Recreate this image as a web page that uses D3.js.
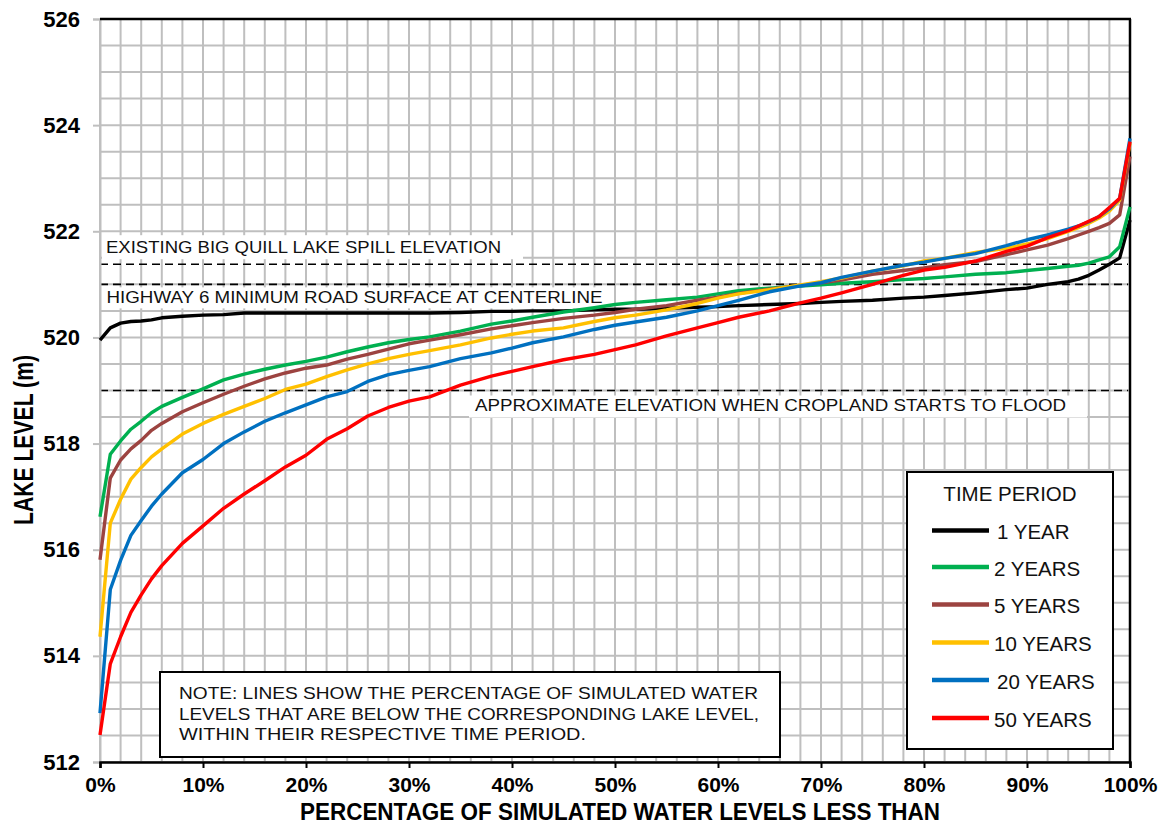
<!DOCTYPE html>
<html>
<head>
<meta charset="utf-8">
<script src="https://cdn.jsdelivr.net/npm/d3@7"></script>
<style>
  body { margin: 0; background: #fff; }
  text { font-family: "Liberation Sans", Arial, sans-serif; }
</style>
</head>
<body>
<script>
// percentage of simulated water levels (x)
var pct = [0,1,2,3,4,5,6,8,10,12,14,16,18,20,22,24,26,28,30,32,35,38,40,42,45,48,50,
           52,55,58,60,62,65,68,70,72,75,78,80,82,85,88,90,92,94,95,96,97,98,99,100];

// lake level (m) for each time period
var yr1 = [519.95,520.18,520.27,520.30,520.31,520.33,520.37,520.40,520.42,520.43,520.46,520.46,520.46,520.46,
           520.46,520.46,520.46,520.46,520.46,520.46,520.47,520.49,520.49,520.50,520.50,520.52,520.53,
           520.53,520.55,520.57,520.58,520.60,520.62,520.64,520.66,520.68,520.70,520.74,520.76,520.79,
           520.84,520.90,520.93,521.00,521.05,521.10,521.17,521.27,521.38,521.50,522.21];
var yr2 = [516.62,517.80,518.05,518.27,518.42,518.58,518.70,518.87,519.03,519.20,519.31,519.40,519.48,519.55,
           519.63,519.73,519.82,519.90,519.96,520.01,520.12,520.25,520.31,520.38,520.48,520.56,520.62,
           520.66,520.71,520.76,520.82,520.88,520.93,520.97,520.99,521.02,521.05,521.09,521.11,521.14,
           521.19,521.22,521.26,521.30,521.34,521.36,521.40,521.46,521.52,521.71,522.46];
var yr5 = [515.81,517.35,517.69,517.90,518.06,518.25,518.38,518.60,518.77,518.93,519.08,519.22,519.33,519.42,
           519.48,519.59,519.68,519.78,519.88,519.95,520.05,520.16,520.22,520.28,520.36,520.42,520.47,
           520.53,520.60,520.70,520.76,520.83,520.91,520.98,521.03,521.08,521.19,521.26,521.31,521.37,
           521.43,521.56,521.65,521.74,521.86,521.93,522.00,522.07,522.15,522.31,523.41];
var yr10 = [514.36,516.50,516.95,517.33,517.55,517.75,517.90,518.18,518.38,518.55,518.70,518.85,519.02,519.12,
            519.26,519.39,519.50,519.60,519.68,519.75,519.86,519.99,520.06,520.12,520.18,520.30,520.37,
            520.42,520.52,520.64,520.74,520.82,520.90,520.99,521.05,521.12,521.25,521.35,521.44,521.49,
            521.60,521.68,521.76,521.86,522.00,522.07,522.15,522.25,522.38,522.59,523.66];
var yr20 = [512.92,515.25,515.80,516.27,516.55,516.82,517.05,517.45,517.70,518.00,518.22,518.42,518.58,518.73,
            518.88,518.98,519.17,519.30,519.38,519.45,519.60,519.71,519.80,519.90,520.01,520.15,520.23,
            520.29,520.38,520.50,520.60,520.70,520.86,520.97,521.03,521.13,521.25,521.36,521.42,521.49,
            521.58,521.73,521.84,521.93,522.04,522.10,522.18,522.28,522.42,522.62,523.75];
var yr50 = [512.51,513.85,514.36,514.82,515.15,515.45,515.70,516.12,516.45,516.78,517.05,517.30,517.56,517.78,
            518.08,518.28,518.52,518.68,518.80,518.88,519.10,519.27,519.36,519.45,519.58,519.68,519.77,
            519.86,520.03,520.18,520.28,520.38,520.50,520.65,520.74,520.84,521.00,521.17,521.27,521.32,
            521.44,521.62,521.72,521.88,522.01,522.10,522.19,522.28,522.45,522.62,523.69];

var seriesNames = ['1 YEAR', '2 YEARS', '5 YEARS', '10 YEARS', '20 YEARS', '50 YEARS'];
var seriesValues = [yr1, yr2, yr5, yr10, yr20, yr50];
var seriesColors = ['#000000', '#00b050', '#9c4340', '#ffc000', '#0070c0', '#ff0000'];

var xTicks = [0,10,20,30,40,50,60,70,80,90,100];
var yTicks = [512,514,516,518,520,522,524,526];

// reference elevations (dashed lines)
var refLevels = [521.38, 521.0, 519.0];
var refLabels = ['EXISTING BIG QUILL LAKE  SPILL ELEVATION',
                 'HIGHWAY 6 MINIMUM ROAD SURFACE AT CENTERLINE',
                 'APPROXIMATE ELEVATION  WHEN CROPLAND STARTS TO FLOOD'];

var noteLines = ['NOTE: LINES SHOW THE  PERCENTAGE OF SIMULATED WATER',
                 'LEVELS THAT ARE BELOW THE CORRESPONDING LAKE LEVEL,',
                 'WITHIN THEIR RESPECTIVE TIME PERIOD.'];

var width = 1161,
    height = 827;
var plotL = 100, plotR = 1130, plotT = 19, plotB = 762;

var svg = d3.select('body')
    .append('svg')
    .attr('width', width)
    .attr('height', height);

var x = d3.scaleLinear().domain([0, 100]).range([plotL, plotR]);
var y = d3.scaleLinear().domain([512, 526]).range([plotB, plotT]);

// grid
var grid = svg.append('g').attr('stroke', '#bfbfbf').attr('stroke-width', 2);
grid.selectAll('.vg')
    .data(d3.range(0, 101, 2))
    .enter().append('line')
    .attr('x1', d => x(d)).attr('x2', d => x(d))
    .attr('y1', plotT).attr('y2', plotB);
grid.selectAll('.hg')
    .data(d3.range(512, 526.01, 0.5))
    .enter().append('line')
    .attr('x1', plotL).attr('x2', plotR)
    .attr('y1', d => y(d)).attr('y2', d => y(d));

// label backgrounds + labels for the reference lines
var labelBoxes = [
  {x0: 102, x1: 523, dy0: -29, dy1: -5, tx: 106, ty: -11, len: 395},
  {x0: 102, x1: 610, dy0: 3, dy1: 24, tx: 106.5, ty: 18.7, len: 496},
  {x0: 469, x1: 1087, dy0: 5, dy1: 27, tx: 475, ty: 20.5, len: 591}
];
labelBoxes.forEach(function(b, i) {
  svg.append('rect')
    .attr('x', b.x0).attr('width', b.x1 - b.x0)
    .attr('y', y(refLevels[i]) + b.dy0).attr('height', b.dy1 - b.dy0)
    .attr('fill', '#fff');
  svg.append('text')
    .attr('x', b.tx).attr('y', y(refLevels[i]) + b.ty)
    .attr('font-size', 16.5)
    .attr('fill', '#111')
    .attr('textLength', b.len)
    .attr('lengthAdjust', 'spacingAndGlyphs')
    .text(refLabels[i]);
});

svg.selectAll('.ref')
    .data(refLevels)
    .enter().append('line')
    .attr('x1', plotL).attr('x2', plotR - 2)
    .attr('y1', d => y(d)).attr('y2', d => y(d))
    .attr('stroke', '#000')
    .attr('stroke-width', 1.6)
    .attr('stroke-dasharray', '8,5');

// axes
var yAxis = svg.append('g')
    .attr('transform', 'translate(' + plotL + ',0)')
    .call(d3.axisLeft(y).tickValues(yTicks).tickSize(7).tickPadding(13).tickFormat(d3.format('d')));
yAxis.select('.domain').attr('stroke', '#bfbfbf').attr('stroke-width', 2);
yAxis.selectAll('.tick line').attr('stroke', '#bfbfbf').attr('stroke-width', 2);
yAxis.selectAll('.tick text')
    .attr('font-size', 22).attr('font-weight', 'bold').attr('fill', '#000')
    .attr('font-family', '"Liberation Sans", Arial, sans-serif');

var xAxis = svg.append('g')
    .attr('transform', 'translate(0,' + plotB + ')')
    .call(d3.axisBottom(x).tickValues(xTicks).tickSize(6).tickPadding(9).tickFormat(d => d + '%'));
xAxis.select('.domain').attr('stroke', '#000').attr('stroke-width', 2.5);
xAxis.selectAll('.tick line').attr('stroke', '#000').attr('stroke-width', 2);
xAxis.selectAll('.tick text')
    .attr('font-size', 21).attr('font-weight', 'bold').attr('fill', '#000')
    .attr('font-family', '"Liberation Sans", Arial, sans-serif');

// top and right border
svg.append('line').attr('x1', plotL).attr('x2', plotR + 1).attr('y1', plotT).attr('y2', plotT)
    .attr('stroke', '#000').attr('stroke-width', 2.5);
svg.append('line').attr('x1', plotR).attr('x2', plotR).attr('y1', plotT).attr('y2', plotB)
    .attr('stroke', '#000').attr('stroke-width', 2.5);

// series
var line = d3.line()
    .x((d, i) => x(pct[i]))
    .y(d => y(d));

svg.selectAll('.series')
    .data(seriesValues)
    .enter().append('path')
    .attr('d', d => line(d))
    .attr('fill', 'none')
    .attr('stroke', (d, i) => seriesColors[i])
    .attr('stroke-width', 3.4)
    .attr('stroke-linejoin', 'round');

// axis titles
svg.append('text')
    .attr('x', 300).attr('y', 820)
    .attr('font-size', 23.5).attr('font-weight', 'bold')
    .attr('textLength', 640).attr('lengthAdjust', 'spacingAndGlyphs')
    .text('PERCENTAGE OF SIMULATED WATER LEVELS LESS THAN');

svg.append('text')
    .attr('transform', 'translate(33,525) rotate(-90)')
    .attr('font-size', 27).attr('font-weight', 'bold')
    .attr('textLength', 170).attr('lengthAdjust', 'spacingAndGlyphs')
    .text('LAKE LEVEL (m)');

// note box
svg.append('rect')
    .attr('x', 160).attr('y', 672).attr('width', 620).attr('height', 85)
    .attr('fill', '#fff').attr('stroke', '#000').attr('stroke-width', 2);
var noteLen = [579, 580, 407];
svg.selectAll('.note')
    .data(noteLines)
    .enter().append('text')
    .attr('x', 179)
    .attr('y', (d, i) => 699 + i * 20.5)
    .attr('font-size', 17)
    .attr('fill', '#111')
    .attr('textLength', (d, i) => noteLen[i])
    .attr('lengthAdjust', 'spacingAndGlyphs')
    .text(d => d);

// legend
var legend = svg.append('g');
legend.append('rect')
    .attr('x', 907).attr('y', 472).attr('width', 206).attr('height', 277)
    .attr('fill', '#fff').attr('stroke', '#000').attr('stroke-width', 2);
legend.append('text')
    .attr('x', 1010).attr('y', 501)
    .attr('text-anchor', 'middle')
    .attr('font-size', 20.5)
    .attr('fill', '#111')
    .text('TIME PERIOD');

var legendY = [530.5, 567, 604.5, 642.5, 680, 718];
var items = legend.selectAll('.item')
    .data(seriesNames)
    .enter().append('g')
    .attr('transform', (d, i) => 'translate(0,' + legendY[i] + ')');
items.append('line')
    .attr('x1', 932).attr('x2', 989)
    .attr('stroke', (d, i) => seriesColors[i])
    .attr('stroke-width', 4.5);
items.append('text')
    .attr('x', (d, i) => i == 0 || i == 4 ? 997 : 994)
    .attr('y', 8.5)
    .attr('font-size', 20.5)
    .attr('fill', '#111')
    .text(d => d);
</script>
</body>
</html>
